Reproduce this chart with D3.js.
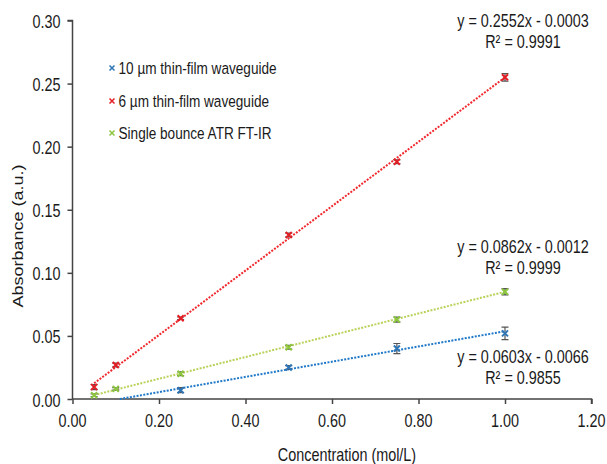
<!DOCTYPE html>
<html><head><meta charset="utf-8">
<script src="https://cdn.jsdelivr.net/npm/d3@7"></script>
<style>body{margin:0;background:#fff}svg text{font-family:"Liberation Sans",Arial,sans-serif;fill:#1a1a1a}</style>
</head><body><svg id="c" width="607" height="464"></svg>
<script>
const xTicks = [0, 0.2, 0.4, 0.6, 0.8, 1.0, 1.2];
const yTicks = [0, 0.05, 0.10, 0.15, 0.20, 0.25, 0.30];
const seriesNames = ["10 µm thin-film waveguide", "6 µm thin-film waveguide", "Single bounce ATR FT-IR"];
const blueX = [0.25, 0.5, 0.75, 1.0];
const blueY = [0.007, 0.025, 0.040, 0.052];
const blueErr = [0.002, 0.0015, 0.004, 0.005];
const redX = [0.05, 0.1, 0.25, 0.5, 0.75, 1.0];
const redY = [0.0095, 0.027, 0.064, 0.130, 0.188, 0.255];
const redErr = [0.002, 0.0015, 0.001, 0.0015, 0.0015, 0.003];
const greenX = [0.05, 0.1, 0.25, 0.5, 0.75, 1.0];
const greenY = [0.003, 0.008, 0.020, 0.041, 0.063, 0.085];
const greenErr = [0.001, 0.001, 0.0015, 0.0015, 0.002, 0.0025];
const slopes = [0.0603, 0.2552, 0.0862];
const intercepts = [-0.0066, -0.0003, -0.0012];
const eqTexts = [["y = 0.0603x - 0.0066", "R² = 0.9855"], ["y = 0.2552x - 0.0003", "R² = 0.9991"], ["y = 0.0862x - 0.0012", "R² = 0.9999"]];
const markerColors = ["#2e75b6", "#e31f26", "#8dc63f"];
const lineColors = ["#1f78c8", "#f0282d", "#b8d25a"];

const svg = d3.select("#c");
const x = d3.scaleLinear().domain([0, 1.2]).range([72.5, 591.5]);
const y = d3.scaleLinear().domain([0, 0.30]).range([399, 20.5]);
const SX = 0.8;
function txt(g, s, px, py, size, anchor, rot) {
  const tr = rot ? `translate(${px},${py}) rotate(${rot}) scale(1,${SX})` : `translate(${px},${py}) scale(${SX},1)`;
  return g.append("g").attr("transform", tr)
    .append("text").attr("font-size", size).attr("text-anchor", anchor || "start").text(s);
}
const axisCol = "#444";
// y axis
const ya = svg.append("g").attr("transform", `translate(${x(0)},0)`)
  .call(d3.axisLeft(y).tickValues(yTicks).tickSize(5).tickFormat(() => ""));
ya.selectAll("path,line").attr("stroke", axisCol).attr("stroke-width", 1.5);
ya.select("path").attr("d", `M-5,${y(0.30)}H0V${y(0)}`);
yTicks.forEach(v => txt(svg, d3.format(".2f")(v), 60.5, y(v) + 7.5, 18, "end"));
// x axis
const xa = svg.append("g").attr("transform", `translate(0,${y(0)})`)
  .call(d3.axisBottom(x).tickValues(xTicks).tickSize(5).tickFormat(() => ""));
xa.selectAll("path,line").attr("stroke", axisCol).attr("stroke-width", 1.5);
xa.select("path").attr("d", `M${x(0)},0H${x(1.2)}V5`);
xTicks.forEach(v => txt(svg, d3.format(".2f")(v), x(v), 427, 18, "middle"));
txt(svg, "Concentration (mol/L)", 347, 461, 18, "middle");
txt(svg, "Absorbance (a.u.)", 23, 236, 18, "middle", -90);

const data = [[blueX, blueY, blueErr], [redX, redY, redErr], [greenX, greenY, greenErr]];
// trendlines
[2, 0, 1].forEach(i => {
  const xs = data[i][0];
  let x0 = 0.05, x1 = xs[xs.length - 1];
  const zero = -intercepts[i] / slopes[i];
  if (slopes[i] * x0 + intercepts[i] < 0) x0 = zero;
  svg.append("line").attr("x1", x(x0)).attr("y1", y(slopes[i] * x0 + intercepts[i]))
    .attr("x2", x(x1)).attr("y2", y(slopes[i] * x1 + intercepts[i]))
    .attr("stroke", lineColors[i]).attr("stroke-width", 2).attr("stroke-dasharray", "2,1.4");
});
// error bars and markers
data.forEach((d, i) => {
  const g = svg.append("g");
  d[0].forEach((xv, k) => {
    const cx = x(xv), yt = y(d[1][k] + d[2][k]), yb = y(d[1][k] - d[2][k]), cy = y(d[1][k]);
    g.append("path").attr("d", `M${cx},${yt}V${yb}M${cx - 3.5},${yt}H${cx + 3.5}M${cx - 3.5},${yb}H${cx + 3.5}`)
      .attr("stroke", "#555").attr("stroke-width", 1.2).attr("fill", "none");
    g.append("path").attr("d", `M${cx - 3},${cy - 3}L${cx + 3},${cy + 3}M${cx - 3},${cy + 3}L${cx + 3},${cy - 3}`)
      .attr("stroke", markerColors[i]).attr("stroke-width", 2);
  });
});
// legend
const legY = [68, 101, 133];
seriesNames.forEach((n, i) => {
  const cx = 112, cy = legY[i];
  svg.append("path").attr("d", `M${cx - 2.5},${cy - 2.5}L${cx + 2.5},${cy + 2.5}M${cx - 2.5},${cy + 2.5}L${cx + 2.5},${cy - 2.5}`)
    .attr("stroke", markerColors[i]).attr("stroke-width", 1.5);
  txt(svg, n, 118.5, cy + 6, 17, "start");
});
// equations
const eqY = [363, 27, 253];
eqTexts.forEach((e, i) => {
  txt(svg, e[0], 523, eqY[i], 18, "middle");
  txt(svg, e[1], 523, eqY[i] + 21, 18, "middle");
});
</script></body></html>
